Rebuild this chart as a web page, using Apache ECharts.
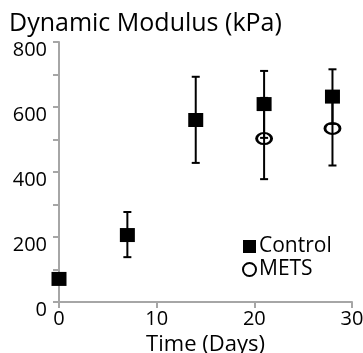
<!DOCTYPE html>
<html>
<head>
<meta charset="utf-8">
<script src="https://cdn.jsdelivr.net/npm/echarts@6/dist/echarts.min.js"></script>
<style>
  html, body { margin: 0; padding: 0; background: #fff; }
  #chart { width: 363px; height: 353px; }
</style>
</head>
<body>
<div id="chart"></div>
<script>
// days of measurement
const controlDays = [0, 7, 14, 21, 28];
const controlMean = [71, 206, 560, 609, 632];
const controlLow = [62, 138, 428, 505, 548];
const controlHigh = [80, 277, 693, 711, 716];

const metsDays = [21, 28];
const metsMean = [503, 534];
const metsLow = [378, 420];
const metsHigh = [628, 648];

const xTicks = [0, 10, 20, 30];
const yLabelTicks = [0, 200, 400, 600, 800];

const FONT = "'Open Sans', sans-serif";

function errorBars(days, low, high) {
  return days.map((d, i) => [d, low[i], high[i]]);
}

function renderErrorBar(params, api) {
  const x = api.value(0);
  const lo = api.coord([x, api.value(1)]);
  const hi = api.coord([x, api.value(2)]);
  const cap = 4;
  const style = { stroke: "#000", lineWidth: 2 };
  return {
    type: "group",
    children: [
      { type: "line", shape: { x1: lo[0], y1: lo[1], x2: hi[0], y2: hi[1] }, style },
      { type: "line", shape: { x1: lo[0] - cap, y1: lo[1], x2: lo[0] + cap, y2: lo[1] }, style },
      { type: "line", shape: { x1: hi[0] - cap, y1: hi[1], x2: hi[0] + cap, y2: hi[1] }, style },
    ],
  };
}

const chart = echarts.init(document.getElementById("chart"), null, { renderer: "canvas" });
chart.setOption({
  animation: false,
  textStyle: { fontFamily: FONT },
  grid: { left: 59, right: 11, top: 42, bottom: 51, containLabel: false, outerBoundsMode: "none" },
  graphic: [
    {
      type: "text",
      left: 9,
      top: 11,
      style: { text: "Dynamic Modulus (kPa)", fontSize: 25, fontFamily: FONT, fill: "#000" },
    },
  ],
  legend: {
    orient: "vertical",
    left: 237,
    top: 231,
    itemWidth: 13,
    itemHeight: 13,
    itemGap: 2,
    textStyle: { fontSize: 21, fontFamily: FONT, color: "#000", padding: [0, 0, 0, -2] },
    data: [
      { name: "Control", icon: "rect", itemStyle: { color: "#000" } },
      {
        name: "METS",
        icon: "circle",
        itemStyle: { color: "#fff", borderColor: "#000", borderWidth: 2 },
      },
    ],
  },
  xAxis: {
    type: "value",
    min: 0,
    max: 30,
    interval: 10,
    name: "Time (Days)",
    nameLocation: "middle",
    nameGap: 28,
    nameTextStyle: { fontSize: 22, fontFamily: FONT, color: "#000", verticalAlign: "top" },
    axisLine: { lineStyle: { color: "#a6a6a6", width: 2 } },
    axisTick: { show: true, length: 6, lineStyle: { color: "#a6a6a6", width: 2 } },
    axisLabel: {
      color: "#000",
      fontSize: 20,
      fontFamily: FONT,
      margin: 7,
      showMaxLabel: true,
      formatter: (v) => (xTicks.includes(v) ? String(v) : ""),
    },
    splitLine: { show: false },
  },
  yAxis: {
    type: "value",
    min: 0,
    max: 800,
    interval: 100,
    axisLine: { show: true, lineStyle: { color: "#a6a6a6", width: 2 } },
    axisTick: { show: true, length: 6, lineStyle: { color: "#a6a6a6", width: 2 } },
    axisLabel: {
      color: "#000",
      fontSize: 20,
      fontFamily: FONT,
      margin: 12,
      verticalAlign: "top",
      lineHeight: 20,
      padding: [-2, 0, 0, 0],
      formatter: (v) => (yLabelTicks.includes(v) ? String(v) : ""),
    },
    splitLine: { show: false },
  },
  series: [
    {
      name: "Control",
      type: "scatter",
      symbol: "rect",
      symbolSize: [15, 14],
      itemStyle: { color: "#000", opacity: 1 },
      data: controlDays.map((d, i) => [d, controlMean[i]]),
      z: 3,
    },
    {
      name: "METS",
      type: "scatter",
      symbol: "circle",
      symbolSize: [15, 11],
      itemStyle: { color: "rgba(0,0,0,0)", borderColor: "#000", borderWidth: 2.5, opacity: 1 },
      data: metsDays.map((d, i) => [d, metsMean[i]]),
      z: 3,
    },
    {
      name: "ControlErr",
      type: "custom",
      renderItem: renderErrorBar,
      data: errorBars(controlDays, controlLow, controlHigh),
      encode: { x: 0, y: [1, 2] },
      z: 4,
    },
    {
      name: "METSErr",
      type: "custom",
      renderItem: renderErrorBar,
      data: errorBars(metsDays, metsLow, metsHigh),
      encode: { x: 0, y: [1, 2] },
      z: 4,
    },
  ],
});
</script>
</body>
</html>
